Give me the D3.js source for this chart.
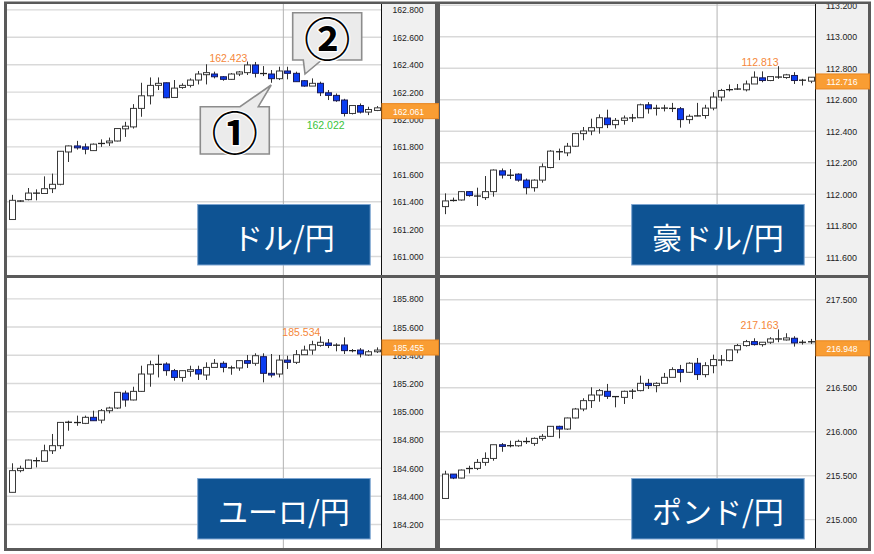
<!DOCTYPE html>
<html><head><meta charset="utf-8">
<script src="https://cdn.jsdelivr.net/npm/d3@7"></script>
<style>body{margin:0;background:#fff} svg{display:block}</style>
</head><body><svg id="c" width="874" height="554"></svg>
<script>
// ---------- DATA ----------
const pairNames = ["ドル/円", "豪ドル/円", "ユーロ/円", "ポンド/円"];
// [open, high, low, close]
const usdjpy = [
[161.27,161.45,161.27,161.41],[161.40,161.41,161.40,161.41],[161.415,161.50,161.41,161.463],[161.46,161.49,161.41,161.465],
[161.46,161.585,161.46,161.495],[161.495,161.605,161.463,161.527],[161.527,161.77,161.52,161.768],[161.763,161.81,161.69,161.807],
[161.807,161.844,161.78,161.793],[161.80,161.825,161.746,161.783],[161.773,161.825,161.77,161.82],[161.82,161.855,161.80,161.83],
[161.83,161.868,161.807,161.843],[161.843,161.935,161.84,161.934],[161.932,161.983,161.873,161.951],[161.946,162.112,161.934,162.081],
[162.081,162.268,162.02,162.173],[162.173,162.307,162.11,162.249],[162.249,162.307,162.215,162.264],[162.268,162.27,162.155,162.159],
[162.161,162.288,162.16,162.229],[162.234,162.264,162.224,162.249],[162.249,162.30,162.234,162.288],[162.288,162.354,162.256,162.332],
[162.327,162.403,162.256,162.342],[162.332,162.349,162.30,162.312],[162.312,162.317,162.283,162.293],[162.293,162.339,162.29,162.332],
[162.332,162.354,162.317,162.347],[162.342,162.423,162.325,162.398],[162.398,162.42,162.307,162.337],[162.337,162.39,162.317,162.334],
[162.332,162.361,162.268,162.298],[162.298,162.385,162.288,162.354],[162.354,162.385,162.293,162.337],[162.337,162.349,162.276,162.276],
[162.283,162.288,162.239,162.244],[162.244,162.30,162.244,162.264],[162.264,162.276,162.171,162.195],[162.195,162.215,162.142,162.176],
[162.176,162.19,162.129,162.137],[162.142,162.151,162.022,162.044],[162.044,162.105,162.037,162.102],[162.102,162.117,162.044,162.054],
[162.054,162.093,162.032,162.073],[162.066,162.098,162.061,162.085]
];
const audjpy = [
[111.922,112.006,111.874,111.958],[111.958,111.979,111.954,111.964],[111.964,112.02,111.96,112.017],[112.017,112.02,111.985,111.992],
[111.99,112.042,111.926,111.988],[111.979,112.116,111.964,112.017],[112.017,112.158,111.985,112.154],[112.149,112.164,112.10,112.122],
[112.122,112.16,112.097,112.12],[112.128,112.133,112.08,112.09],[112.09,112.10,112.0,112.042],[112.042,112.095,112.017,112.09],
[112.09,112.196,112.074,112.175],[112.17,112.28,112.165,112.274],[112.27,112.29,112.217,112.27],[112.263,112.326,112.242,112.305],
[112.305,112.39,112.30,112.385],[112.385,112.427,112.343,112.402],[112.402,112.48,112.375,112.423],[112.423,112.507,112.385,112.486],
[112.484,112.537,112.42,112.442],[112.442,112.484,112.417,112.469],[112.469,112.50,112.442,112.484],[112.484,112.51,112.459,112.486],
[112.486,112.575,112.484,112.568],[112.568,112.585,112.512,112.543],[112.545,112.568,112.50,112.547],[112.547,112.568,112.526,112.547],
[112.547,112.58,112.522,112.543],[112.543,112.554,112.423,112.474],[112.474,112.507,112.448,112.495],[112.495,112.58,112.495,112.50],
[112.50,112.568,112.48,112.547],[112.547,112.648,112.533,112.617],[112.617,112.669,112.59,112.659],[112.659,112.697,112.653,112.669],
[112.669,112.70,112.663,112.667],[112.663,112.722,112.653,112.70],[112.70,112.78,112.70,112.743],[112.739,112.78,112.711,112.722],
[112.722,112.747,112.718,112.747],[112.743,112.813,112.733,112.745],[112.741,112.764,112.733,112.758],[112.754,112.775,112.70,112.722],
[112.722,112.733,112.69,112.726],[112.718,112.743,112.705,112.743]
];
const eurjpy = [
[184.428,184.634,184.428,184.582],[184.582,184.617,184.57,184.598],[184.598,184.66,184.595,184.657],[184.648,184.676,184.605,184.657],
[184.648,184.766,184.645,184.723],[184.723,184.842,184.70,184.759],[184.759,184.926,184.735,184.924],[184.924,184.936,184.865,184.926],
[184.922,184.972,184.90,184.924],[184.917,184.972,184.912,184.96],[184.96,185.007,184.936,184.936],[184.94,185.019,184.917,185.007],
[185.007,185.035,184.988,185.026],[185.026,185.14,185.02,185.137],[185.132,185.149,185.035,185.083],[185.083,185.177,185.08,185.144],
[185.144,185.326,185.14,185.267],[185.267,185.362,185.177,185.333],[185.333,185.404,185.243,185.338],[185.338,185.35,185.255,185.291],
[185.291,185.303,185.22,185.243],[185.243,185.291,185.213,185.291],[185.286,185.326,185.248,185.298],[185.298,185.326,185.225,185.267],
[185.26,185.35,185.225,185.314],[185.314,185.373,185.314,185.343],[185.343,185.357,185.279,185.314],[185.312,185.326,185.262,185.31],
[185.31,185.366,185.29,185.362],[185.362,185.402,185.31,185.343],[185.343,185.414,185.326,185.397],[185.39,185.414,185.208,185.272],
[185.272,185.409,185.243,185.26],[185.267,185.402,185.243,185.366],[185.366,185.397,185.303,185.35],[185.35,185.437,185.338,185.404],
[185.404,185.468,185.404,185.437],[185.437,185.503,185.404,185.475],[185.47,185.534,185.461,185.492],[185.487,185.515,185.451,185.47],
[185.47,185.485,185.428,185.473],[185.473,185.527,185.409,185.433],[185.433,185.444,185.421,185.433],[185.437,185.451,185.385,185.409],
[185.402,185.437,185.397,185.425],[185.425,185.456,185.416,185.437]
];
const gbpjpy = [
[215.241,215.556,215.241,215.518],[215.518,215.518,215.461,215.473],[215.473,215.57,215.47,215.564],[215.58,215.613,215.526,215.583],
[215.583,215.689,215.564,215.651],[215.651,215.765,215.613,215.696],[215.696,215.852,215.67,215.852],[215.852,215.871,215.772,215.833],
[215.84,215.898,215.822,215.842],[215.84,215.909,215.829,215.89],[215.886,215.935,215.86,215.89],[215.867,215.935,215.84,215.924],
[215.924,215.973,215.898,215.947],[215.947,216.065,215.94,216.061],[216.061,216.068,215.924,216.03],[216.03,216.16,216.02,216.156],
[216.156,216.27,216.15,216.258],[216.258,216.38,216.233,216.353],[216.353,216.505,216.27,216.417],[216.417,216.486,216.341,216.467],
[216.459,216.543,216.372,216.402],[216.40,216.402,216.277,216.398],[216.39,216.467,216.315,216.459],[216.459,216.486,216.372,216.462],
[216.467,216.637,216.459,216.55],[216.55,216.60,216.486,216.524],[216.524,216.562,216.448,216.55],[216.55,216.668,216.543,216.618],
[216.618,216.732,216.618,216.706],[216.706,216.759,216.562,216.675],[216.675,216.79,216.668,216.778],[216.778,216.838,216.588,216.649],
[216.649,216.79,216.618,216.751],[216.751,216.876,216.664,216.82],[216.82,216.872,216.751,216.808],[216.808,216.93,216.80,216.93],
[216.93,216.998,216.892,216.979],[216.979,217.043,216.967,217.024],[217.024,217.062,216.979,216.99],[216.99,217.017,216.967,217.017],
[217.017,217.074,216.998,217.055],[217.053,217.163,217.017,217.055],[217.043,217.119,217.036,217.066],[217.062,217.085,216.967,217.009],
[217.009,217.043,216.99,217.024],[217.02,217.055,216.998,217.024]
];
const usdjpyTicks = [161.0,161.2,161.4,161.6,161.8,162.0,162.2,162.4,162.6,162.8];
const audjpyTicks = [111.6,111.8,112.0,112.2,112.4,112.6,112.8,113.0,113.2];
const eurjpyTicks = [184.0,184.2,184.4,184.6,184.8,185.0,185.2,185.4,185.6,185.8];
const gbpjpyTicks = [215.0,215.5,216.0,216.5,217.0,217.5];
const lastPrices = [162.061, 112.716, 185.455, 216.948];
const highLabels = [[29,162.423],[41,112.813],[38,185.534],[41,217.163]]; // [candle index, value]
const lowLabels  = [[41,162.022], null, null, null];
const sessionBreakIndex = 33.5;
const calloutLabels = ["①", "②"];
const calloutTips = [[32, 162.252], [36.17, 162.332]]; // [candle index, price]

// ---------- LAYOUT ----------
const series = [usdjpy, audjpy, eurjpy, gbpjpy];
const ticks = [usdjpyTicks, audjpyTicks, eurjpyTicks, gbpjpyTicks];
const layout = [
  {x0:7,   x1:381, y0:4,   y1:275, ax1:435, dom:[160.865,162.843], left:true},
  {x0:440, x1:815, y0:4,   y1:275, ax1:868, dom:[111.488,113.2075], left:false},
  {x0:7,   x1:381, y0:278, y1:548, ax1:435, dom:[184.0333,185.948], left:true},
  {x0:440, x1:815, y0:278, y1:548, ax1:868, dom:[214.678,217.747], left:false}
];
const UP_FILL = "#ffffff", DOWN_FILL = "#0b3cf2", OUTLINE = "#2a2a2a";

const svg = d3.select("#c");
svg.append("rect").attr("x",4).attr("y",1.5).attr("width",867).attr("height",549.5).attr("fill","#5a5a5a");
const defs = svg.append("defs");

const scalesAll = [];
layout.forEach((L, p) => {
  const data = series[p];
  const g = svg.append("g");
  const x = d3.scaleBand().domain(d3.range(data.length)).range([L.x0 + 0.65, L.x1 - 0.35]).padding(0);
  const y = d3.scaleLinear().domain(L.dom).range([L.y1, L.y0]);
  const cx = i => x(0) + x.step() * i + x.step() / 2;
  scalesAll.push({x, y, cx});

  defs.append("clipPath").attr("id", "clip" + p).append("rect")
    .attr("x", L.x0).attr("y", L.y0).attr("width", L.ax1 - L.x0).attr("height", L.y1 - L.y0);

  g.append("rect").attr("x", L.x0).attr("y", L.y0).attr("width", L.x1 - L.x0).attr("height", L.y1 - L.y0).attr("fill", "#fff");
  g.append("rect").attr("x", L.x1).attr("y", L.y0).attr("width", L.ax1 - L.x1).attr("height", L.y1 - L.y0).attr("fill", "#f0f0f0");

  const inner = g.append("g").attr("clip-path", `url(#clip${p})`);
  // grid
  inner.selectAll("line.grid").data(ticks[p]).join("line")
    .attr("x1", L.x0).attr("x2", L.x1)
    .attr("y1", d => y(d)).attr("y2", d => y(d))
    .attr("stroke", "#d9d9d9").attr("stroke-width", 1.4);
  // session break
  inner.append("line").attr("x1", cx(sessionBreakIndex)).attr("x2", cx(sessionBreakIndex))
    .attr("y1", L.y0).attr("y2", L.y1).attr("stroke", "#b3b3b3").attr("stroke-width", 1);
  // axis separator
  g.append("line").attr("x1", L.x1 + 0.5).attr("x2", L.x1 + 0.5).attr("y1", L.y0).attr("y2", L.y1)
    .attr("stroke", "#111").attr("stroke-width", 1);
  // axis labels
  const axisG = inner.append("g");
  axisG.selectAll("text").data(ticks[p]).join("text")
    .attr("x", (L.x1 + L.ax1) / 2).attr("y", d => y(d))
    .attr("text-anchor", "middle").attr("dominant-baseline", "central")
    .attr("font-family", "Liberation Sans, Arial, sans-serif").attr("font-size", 9.6)
    .attr("textLength", 31).attr("lengthAdjust", "spacingAndGlyphs")
    .attr("fill", "#222").text(d => d.toFixed(3));

  // candles
  const cg = g.append("g");
  const c = cg.selectAll("g").data(data).join("g");
  c.append("line")
    .attr("x1", (d, i) => Math.round(cx(i)) + 0.5).attr("x2", (d, i) => Math.round(cx(i)) + 0.5)
    .attr("y1", d => y(d[1])).attr("y2", d => y(d[2]))
    .attr("stroke", "#333").attr("stroke-width", 1);
  c.each(function(d, i) {
    const sel = d3.select(this);
    const top = y(Math.max(d[0], d[3])), bot = y(Math.min(d[0], d[3]));
    const xc = Math.round(cx(i)) + 0.5;
    if (bot - top < 1.6) {
      sel.append("line").attr("x1", xc - 3.5).attr("x2", xc + 3.5)
        .attr("y1", (top + bot) / 2).attr("y2", (top + bot) / 2)
        .attr("stroke", "#222").attr("stroke-width", 1.3);
    } else {
      sel.append("rect").attr("x", xc - 3).attr("y", top).attr("width", 6).attr("height", bot - top)
        .attr("fill", d[3] >= d[0] ? UP_FILL : DOWN_FILL)
        .attr("stroke", d[3] >= d[0] ? "#3a3a3a" : "#1a1a55").attr("stroke-width", 1);
    }
  });

  // high / low labels
  const hl = highLabels[p];
  if (hl) g.append("text").attr("x", cx(hl[0]) + 0.5).attr("y", y(hl[1]))
    .attr("text-anchor", "end").attr("font-family", "Liberation Sans, Arial, sans-serif")
    .attr("font-size", 10.5).attr("fill", "#f5873a").text(hl[1].toFixed(3));
  const ll = lowLabels[p];
  if (ll) g.append("text").attr("x", cx(ll[0]) + 0.5).attr("y", y(ll[1]) + 13)
    .attr("text-anchor", "end").attr("font-family", "Liberation Sans, Arial, sans-serif")
    .attr("font-size", 10.5).attr("fill", "#39c43a").text(ll[1].toFixed(3));

  // title box
  const bx = L.x1 - 183.3, by = L.y0 + 200.5, bw = 172.5, bh = 60.5;
  g.append("rect").attr("x", bx).attr("y", by).attr("width", bw).attr("height", bh)
    .attr("fill", "#0e5393").attr("stroke", "#7ea6d2").attr("stroke-width", 1);
  g.append("text").attr("x", bx + bw / 2).attr("y", by + bh / 2 + 1)
    .attr("text-anchor", "middle").attr("dominant-baseline", "central")
    .attr("font-family", "Noto Sans CJK JP, sans-serif").attr("font-size", 30)
    .attr("fill", "#fff").text(pairNames[p]);
});

// price boxes drawn last (overlap frame)
layout.forEach((L, p) => {
  const {y} = scalesAll[p];
  const yc = y(lastPrices[p]);
  const w = L.ax1 - L.x1 + (L.left ? 2.5 : 0.5);
  svg.append("rect").attr("x", L.x1 + 1).attr("y", yc - 7.5).attr("width", w).attr("height", 15)
    .attr("fill", "#f99d33").attr("stroke", "#e8851e").attr("stroke-width", 1);
  svg.append("text").attr("x", (L.x1 + L.ax1) / 2 + 0.5).attr("y", yc)
    .attr("text-anchor", "middle").attr("dominant-baseline", "central")
    .attr("font-family", "Liberation Sans, Arial, sans-serif").attr("font-size", 9.6)
    .attr("textLength", 31).attr("lengthAdjust", "spacingAndGlyphs")
    .attr("fill", "#fff").text(lastPrices[p].toFixed(3));
});

// callouts (USD/JPY panel)
{
  const {y, cx} = scalesAll[0];
  const boxes = [
    {x:200.3, y:106.7, w:69, h:47.3, side:"top", b0:240, b1:258.3},
    {x:292.7, y:12.7, w:69, h:47.3, side:"bottom", b0:303.3, b1:321.7}
  ];
  boxes.forEach((b, k) => {
    const tx = cx(calloutTips[k][0]), ty = y(calloutTips[k][1]);
    let path;
    if (b.side === "top") {
      path = `M${b.x},${b.y} L${b.b0},${b.y} L${tx},${ty} L${b.b1},${b.y} L${b.x+b.w},${b.y} L${b.x+b.w},${b.y+b.h} L${b.x},${b.y+b.h} Z`;
    } else {
      path = `M${b.x},${b.y} L${b.x+b.w},${b.y} L${b.x+b.w},${b.y+b.h} L${b.b1},${b.y+b.h} L${tx},${ty} L${b.b0},${b.y+b.h} L${b.x},${b.y+b.h} Z`;
    }
    svg.append("path").attr("d", path).attr("fill", "#ebebeb").attr("stroke", "#8c8c8c").attr("stroke-width", 1.6)
      .attr("stroke-linejoin", "miter");
    svg.append("text").attr("x", b.x + b.w / 2).attr("y", b.y + b.h / 2)
      .attr("text-anchor", "middle").attr("dominant-baseline", "central")
      .attr("font-family", "Noto Sans CJK JP, sans-serif").attr("font-weight", 700).attr("font-size", 46)
      .attr("fill", "#000").attr("stroke", "#fff").attr("stroke-width", 2.5).attr("paint-order", "stroke")
      .text(calloutLabels[k]);
  });
}
</script>
</body></html>
